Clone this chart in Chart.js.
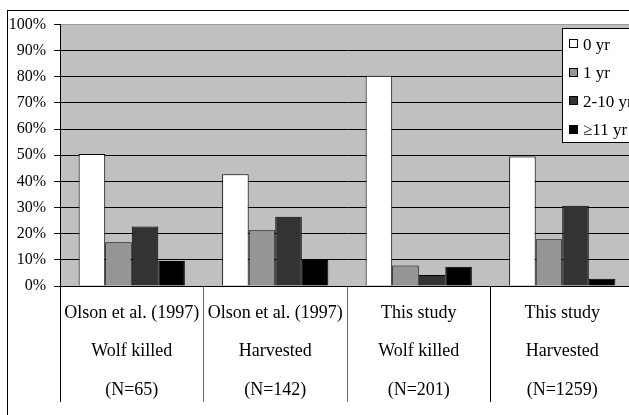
<!DOCTYPE html>
<html>
<head>
<meta charset="utf-8">
<script src="https://cdn.jsdelivr.net/npm/chart.js@4"></script>
<style>
  html, body { margin: 0; padding: 0; overflow: hidden; background: #fff; }
  canvas { display: block; }
</style>
</head>
<body>
<canvas id="c" width="640" height="430" style="width:640px;height:430px"></canvas>
<script>
// Age structure (% of sample) of moose by source
const categories = [
  ['Olson et al. (1997)', 'Wolf killed', '(N=65)'],
  ['Olson et al. (1997)', 'Harvested', '(N=142)'],
  ['This study', 'Wolf killed', '(N=201)'],
  ['This study', 'Harvested', '(N=1259)']
];
const seriesNames = ['0 yr', '1 yr', '2-10 yr', '\u226511 yr'];
const age0 = [50.5, 42.7, 80.4, 49.5];
const age1 = [16.7, 21.3, 7.8, 17.9];
const age2to10 = [22.8, 26.5, 4.2, 30.7];
const age11plus = [9.6, 9.9, 7.4, 2.8];
const yTicks = [0, 10, 20, 30, 40, 50, 60, 70, 80, 90, 100];

const fills = ['#ffffff', '#969696', '#333333', '#000000'];
const SERIF = '"Liberation Serif", "Times New Roman", serif';

// Outer frame, grey plot background
const backdrop = {
  id: 'backdrop',
  beforeDraw(chart) {
    const { ctx, chartArea: a } = chart;
    ctx.save();
    ctx.fillStyle = '#ffffff';
    ctx.fillRect(0, 0, chart.width, chart.height);
    ctx.fillStyle = '#c0c0c0';
    ctx.fillRect(a.left, a.top, a.right - a.left, a.bottom - a.top);
    ctx.strokeStyle = '#000';
    ctx.lineWidth = 1;
    ctx.strokeRect(7.5, 10.5, chart.width, chart.height);
    ctx.restore();
  }
};

// Boxed legend in the upper right of the plot
const boxLegend = {
  id: 'boxLegend',
  afterDraw(chart) {
    const { ctx } = chart;
    const x0 = 562.5, y0 = 28.5, h = 114;
    ctx.save();
    ctx.fillStyle = '#fff';
    ctx.fillRect(x0, y0, chart.width, h);
    ctx.strokeStyle = '#000';
    ctx.lineWidth = 1;
    ctx.strokeRect(x0, y0, chart.width, h);
    ctx.font = '17px ' + SERIF;
    ctx.textBaseline = 'middle';
    chart.data.datasets.forEach((ds, i) => {
      const cy = 44.3 + i * 28.4;
      ctx.fillStyle = ds.backgroundColor;
      ctx.fillRect(569.5, Math.round(cy) - 4.5, 8, 8);
      ctx.strokeStyle = '#000';
      ctx.strokeRect(569.5, Math.round(cy) - 4.5, 8, 8);
      ctx.fillStyle = '#000';
      ctx.fillText(ds.label, 583, cy + 1);
    });
    ctx.restore();
  }
};

const values = [age0, age1, age2to10, age11plus];

new Chart(document.getElementById('c'), {
  type: 'bar',
  data: {
    labels: categories,
    datasets: seriesNames.map((name, i) => ({
      label: name,
      data: values[i],
      backgroundColor: fills[i],
      borderColor: '#000',
      borderWidth: 1,
      categoryPercentage: 0.74,
      barPercentage: 1.0
    }))
  },
  options: {
    responsive: false,
    animation: false,
    devicePixelRatio: 1,
    layout: { padding: { left: 7, top: 24.5, right: 6, bottom: 0 } },
    plugins: {
      legend: { display: false },
      tooltip: { enabled: false }
    },
    scales: {
      x: {
        offset: true,
        grid: {
          offset: true,
          drawOnChartArea: false,
          drawTicks: true,
          tickLength: 116,
          color: (c) => (c.index === 1 || c.index === 2) ? '#6a6a6a' : '#000',
          lineWidth: 1
        },
        border: { display: true, color: '#000', width: 1 },
        ticks: {
          color: '#000',
          padding: -108.25,
          maxRotation: 0,
          autoSkip: false,
          font: { family: SERIF, size: 18, lineHeight: 2.14 }
        },
        afterFit(scale) { scale.height = 144; }
      },
      y: {
        min: 0,
        max: 100,
        afterBuildTicks(scale) { scale.ticks = yTicks.map(v => ({ value: v })); },
        grid: {
          color: (c) => c.tick && c.tick.value === 100 ? '#9a9a9a' : '#000',
          tickColor: '#000',
          tickLength: 6,
          lineWidth: 1
        },
        border: { display: true, color: '#000', width: 1 },
        ticks: {
          color: '#000',
          padding: 8,
          font: { family: SERIF, size: 16 },
          callback: (v) => v + '%'
        },
        afterFit(scale) { scale.width = 53; }
      }
    }
  },
  plugins: [backdrop, boxLegend]
});
</script>
</body>
</html>
